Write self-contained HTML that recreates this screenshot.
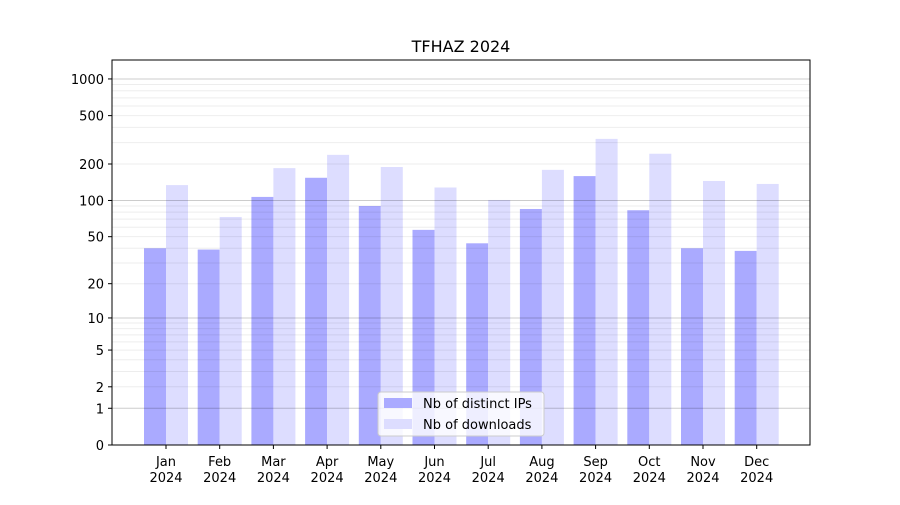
<!DOCTYPE html>
<html><head><meta charset="utf-8"><style>
body{margin:0;background:#fff;font-family:"Liberation Sans","DejaVu Sans",sans-serif;}
</style></head><body>
<svg width="900" height="500" font-family="DejaVu Sans, Liberation Sans, sans-serif">
<rect width="900" height="500" fill="#fff"/>
<text x="461" y="52" text-anchor="middle" font-size="16">TFHAZ 2024</text>
<g id="bars"></g>
<g id="grid"></g>
<rect x="112" y="60" width="698" height="385" fill="none" stroke="#000" stroke-width="1"/>
<g id="yaxis" font-size="13"></g>
<g id="xaxis" font-size="13"></g>
<g>
<rect x="378" y="392" width="166" height="44" fill="#fff" fill-opacity="0.8" stroke="#ccc" rx="3"/>
<rect x="384" y="398" width="28" height="10" fill="#aaaaff"/>
<text x="423" y="408" font-size="13">Nb of distinct IPs</text>
<rect x="384" y="419" width="28" height="10" fill="#ddddff"/>
<text x="423" y="429" font-size="13">Nb of downloads</text>
</g>
</svg>
<script>
const months=["Jan","Feb","Mar","Apr","May","Jun","Jul","Aug","Sep","Oct","Nov","Dec"];
const ips=[40,39,107,154,90,57,44,85,159,83,40,38];
const downloads=[134,73,185,238,189,128,101,179,322,243,145,137];
const yTicks=[0,1,2,5,10,20,50,100,200,500,1000];
const NS="http://www.w3.org/2000/svg";
function y(v){return 445-122*Math.log10(v+1);}
function x(i){return 166+i*53.7;}
function mk(t,a,p){const e=document.createElementNS(NS,t);for(const k in a)e.setAttribute(k,a[k]);p.appendChild(e);return e;}
const bars=document.getElementById('bars');
months.forEach((m,i)=>{
 const a=mk('rect',{x:x(i)-22,y:y(ips[i]),width:22,height:445-y(ips[i]),fill:'#aaaaff'},bars);
 
 
 const b=mk('rect',{x:x(i),y:y(downloads[i]),width:22,height:445-y(downloads[i]),fill:'#ddddff'},bars);
 
 
});
const grid=document.getElementById('grid');
[1,10,100].forEach(d=>{for(let k=2;k<=9;k++){const v=k*d;const l=mk('line',{x1:112,x2:810,y1:y(v),y2:y(v),stroke:'#000','stroke-opacity':0.07},grid);
 
 }});
[1,10,100,1000].forEach(v=>{const l=mk('line',{x1:112,x2:810,y1:y(v),y2:y(v),stroke:'#000','stroke-opacity':0.2},grid);
 
 });
const ya=document.getElementById('yaxis');
yTicks.forEach(v=>{mk('line',{x1:108,x2:112,y1:y(v),y2:y(v),stroke:'#000'},ya);
 const t=mk('text',{x:104,y:y(v)+5,'text-anchor':'end'},ya);t.textContent=v;
 
 });
const xa=document.getElementById('xaxis');
months.forEach((m,i)=>{mk('line',{x1:x(i),x2:x(i),y1:445,y2:449,stroke:'#000'},xa);
 const t=mk('text',{x:x(i),y:466,'text-anchor':'middle'},xa);t.textContent=m;
 
 
 const t2=mk('text',{x:x(i),y:482,'text-anchor':'middle'},xa);t2.textContent='2024';
 
 });
</script>
</body></html>
